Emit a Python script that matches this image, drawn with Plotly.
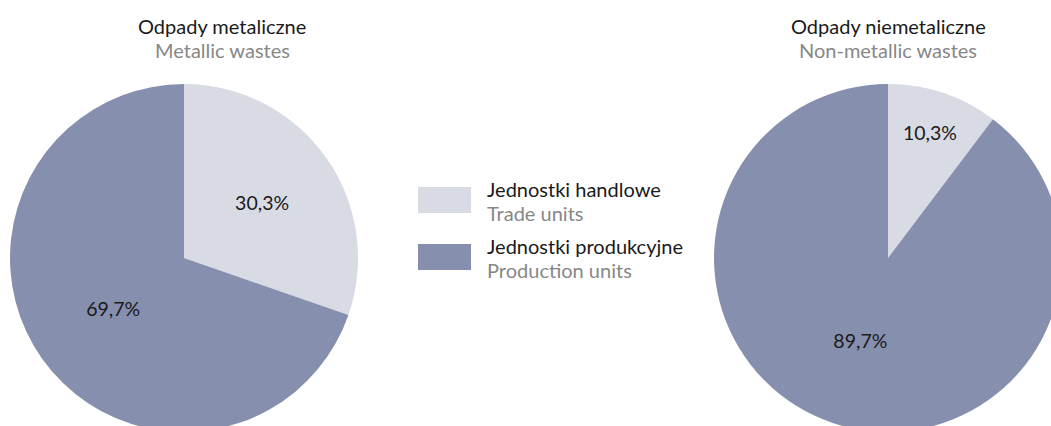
import plotly.graph_objects as go

categories_pl = ["Jednostki handlowe", "Jednostki produkcyjne"]
categories_en = ["Trade units", "Production units"]
metallic = [30.3, 69.7]
non_metallic = [10.3, 89.7]
titles_pl = ["Odpady metaliczne", "Odpady niemetaliczne"]
titles_en = ["Metallic wastes", "Non-metallic wastes"]

LIGHT = "#d8dae4"
DARK = "#878fae"
GRAY = "#878787"
BLACK = "#1a1a1a"
FONT = "Lato"
FS = 20

W, H = 1080, 440


def px_x(x):
    return x / W


def px_y(y):
    return 1 - y / H


def base_to_center(b, size=FS):
    # Lato: ascent 0.987em, descent 0.213em -> box centre sits 0.387em above baseline
    return b - 0.387 * size


fig = go.Figure()
for vals, dom in [(metallic, [10, 358]), (non_metallic, [714, 1062])]:
    fig.add_trace(go.Pie(
        labels=categories_pl, values=vals, sort=False, direction="clockwise",
        rotation=0, marker=dict(colors=[LIGHT, DARK], line=dict(width=0)),
        texttemplate="%{value:.1f}%", textposition="inside",
        insidetextorientation="horizontal",
        textfont=dict(family=FONT, size=19.5, color=BLACK),
        hoverinfo="label+percent",
        domain=dict(x=[px_x(dom[0]), px_x(dom[1])], y=[px_y(432), px_y(84)]),
    ))

annotations = []
for cx, tpl, ten in [(222, titles_pl[0], titles_en[0]), (888, titles_pl[1], titles_en[1])]:
    annotations.append(dict(x=px_x(cx), y=px_y(base_to_center(34)), text=tpl,
                            showarrow=False, xanchor="center", yanchor="middle",
                            borderpad=0, font=dict(family=FONT, size=FS, color=BLACK)))
    annotations.append(dict(x=px_x(cx), y=px_y(base_to_center(57.5)), text=ten,
                            showarrow=False, xanchor="center", yanchor="middle",
                            borderpad=0, font=dict(family=FONT, size=FS, color=GRAY)))

shapes = []
for i, (pl, en, col) in enumerate(zip(categories_pl, categories_en, [LIGHT, DARK])):
    top = 187 + i * 57
    shapes.append(dict(type="rect", xref="paper", yref="paper",
                       x0=px_x(418), x1=px_x(471), y0=px_y(top + 26), y1=px_y(top),
                       fillcolor=col, line=dict(width=0)))
    annotations.append(dict(x=px_x(486), y=px_y(base_to_center(top + 9.5)), text=pl,
                            showarrow=False, xanchor="left", yanchor="middle",
                            borderpad=0, font=dict(family=FONT, size=FS, color=BLACK)))
    annotations.append(dict(x=px_x(486), y=px_y(base_to_center(top + 33.5)), text=en,
                            showarrow=False, xanchor="left", yanchor="middle",
                            borderpad=0, font=dict(family=FONT, size=FS, color=GRAY)))

fig.update_layout(
    width=W, height=H, margin=dict(l=0, r=0, t=0, b=0),
    paper_bgcolor="white", plot_bgcolor="white",
    showlegend=False, separators=", ",
    annotations=annotations, shapes=shapes,
    font=dict(family=FONT),
)

fig.write_html(
    "out.html",
    config={"displayModeBar": False},
    post_script="document.documentElement.style.overflow='hidden';"
                "document.body.style.overflow='hidden';document.body.style.margin='0';",
)
